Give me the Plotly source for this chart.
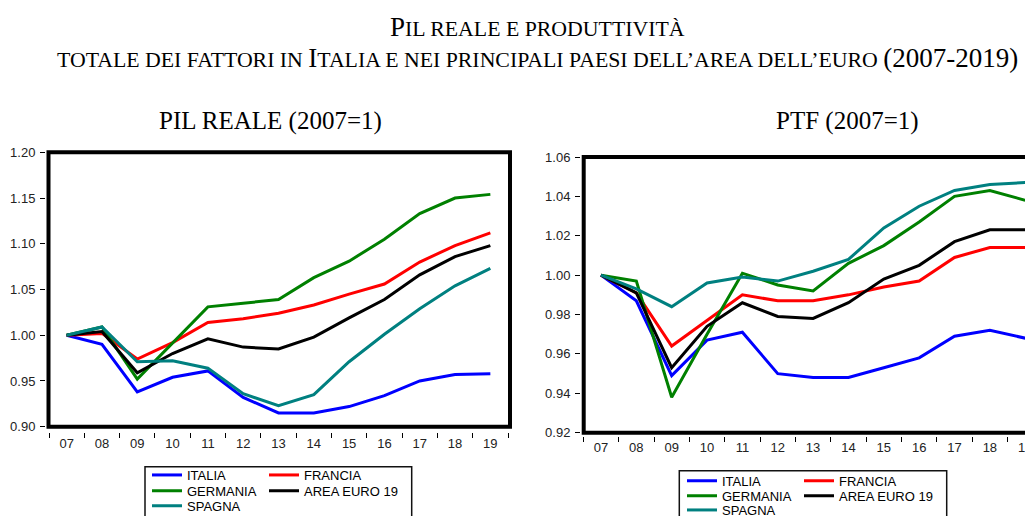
import plotly.graph_objects as go

# the page body keeps an 8px margin, so the figure is drawn 8px smaller
OFF = 8
W, H = 1033 - OFF, 516 - OFF

years = ["07", "08", "09", "10", "11", "12", "13", "14", "15", "16", "17", "18", "19"]

# PIL reale (2007=1)
pil_italia = [1.000, 0.990, 0.938, 0.954, 0.961, 0.932, 0.915, 0.915, 0.922, 0.934, 0.950, 0.957, 0.958]
pil_francia = [1.000, 1.002, 0.974, 0.992, 1.014, 1.018, 1.024, 1.033, 1.045, 1.056, 1.080, 1.098, 1.112]
pil_germania = [1.000, 1.009, 0.952, 0.992, 1.031, 1.035, 1.039, 1.063, 1.081, 1.105, 1.133, 1.150, 1.154]
pil_area_euro = [1.000, 1.004, 0.959, 0.980, 0.996, 0.987, 0.985, 0.998, 1.019, 1.039, 1.066, 1.086, 1.098]
pil_spagna = [1.000, 1.009, 0.971, 0.972, 0.964, 0.936, 0.923, 0.935, 0.971, 1.001, 1.029, 1.054, 1.073]

# PTF (2007=1)
ptf_italia = [1.000, 0.987, 0.949, 0.967, 0.971, 0.950, 0.948, 0.948, 0.953, 0.958, 0.969, 0.972, 0.968]
ptf_francia = [1.000, 0.991, 0.964, 0.977, 0.990, 0.987, 0.987, 0.990, 0.994, 0.997, 1.009, 1.014, 1.014]
ptf_germania = [1.000, 0.997, 0.938, 0.970, 1.001, 0.995, 0.992, 1.006, 1.015, 1.027, 1.040, 1.043, 1.038]
ptf_area_euro = [1.000, 0.991, 0.953, 0.974, 0.986, 0.979, 0.978, 0.986, 0.998, 1.005, 1.017, 1.023, 1.023]
ptf_spagna = [1.000, 0.993, 0.984, 0.996, 0.999, 0.997, 1.002, 1.008, 1.024, 1.035, 1.043, 1.046, 1.047]

series_names = ["ITALIA", "FRANCIA", "GERMANIA", "AREA EURO 19", "SPAGNA"]
series_colors = ["#0000FF", "#FF0000", "#008000", "#000000", "#008080"]
# legend row / column of each series (two columns, three rows)
series_rows = [0, 0, 1, 1, 2]
series_cols = [0, 1, 0, 1, 0]

SANS = "Liberation Sans, Arial, sans-serif"
SERIF = "Liberation Serif, Times New Roman, serif"


def fx(px):
    # window pixel -> paper fraction
    return (px - OFF) / W


def fy(px):
    return 1 - (px - OFF) / H


fig = go.Figure()

panels = [
    {"data": [pil_italia, pil_francia, pil_germania, pil_area_euro, pil_spagna],
     "xa": "x", "ya": "y", "legends": ["legend", "legend2", "legend3"]},
    {"data": [ptf_italia, ptf_francia, ptf_germania, ptf_area_euro, ptf_spagna],
     "xa": "x2", "ya": "y2", "legends": ["legend4", "legend5", "legend6"]},
]

for panel in panels:
    for name, color, row, col, values in zip(series_names, series_colors, series_rows,
                                             series_cols, panel["data"]):
        fig.add_trace(go.Scatter(x=years, y=values, mode="lines", name=name,
                                 line=dict(color=color, width=3),
                                 xaxis=panel["xa"], yaxis=panel["ya"],
                                 legend=panel["legends"][row],
                                 legendwidth=72 if col == 0 else 130,
                                 hoverinfo="skip"))

tick_font = dict(family=SANS, size=13, color="#222222")
xcommon = dict(type="category", categoryorder="array", categoryarray=years,
               anchor="free", ticks="outside", ticklen=5, tickwidth=1, tickcolor="#000000",
               tickson="boundaries", showline=False, showgrid=False, zeroline=False,
               ticklabelstandoff=2, tickfont=tick_font)
ycommon = dict(anchor="free", ticks="outside", ticklen=5, tickwidth=1, tickcolor="#000000",
               tickformat=".2f", showline=False, showgrid=False, zeroline=False,
               ticklabelstandoff=2, tickfont=tick_font)

fig.update_layout(
    width=W, height=H,
    margin=dict(l=0, r=0, t=0, b=0, autoexpand=False),
    paper_bgcolor="white", plot_bgcolor="white",
    xaxis=dict(xcommon, domain=[fx(49), fx(508)], range=[-0.5, 12.5], position=fy(431.5)),
    yaxis=dict(ycommon, domain=[fy(426.7), fy(152.3)], range=[0.90, 1.20], dtick=0.05,
               position=fx(45)),
    xaxis2=dict(xcommon, domain=[fx(583.3), 1.0], range=[-0.5, 12.22], position=fy(435.5)),
    yaxis2=dict(ycommon, domain=[fy(432.7), fy(157)], range=[0.92, 1.06], dtick=0.02,
                position=fx(580)),
    showlegend=True,
)

# legends: one horizontal legend per row, boxed by a rectangle
legend_style = dict(orientation="h", xanchor="left", yanchor="top", bgcolor="rgba(0,0,0,0)",
                    borderwidth=0, font=dict(family=SANS, size=13, color="#000000"),
                    entrywidthmode="pixels", itemwidth=30, tracegroupgap=0)
left_rows = [475, 490.7, 505.7]
right_rows = [480.7, 495.7, 510]
legend_layout = {}
for i, yc in enumerate(left_rows):
    key = "legend" if i == 0 else "legend%d" % (i + 1)
    legend_layout[key] = dict(legend_style, x=fx(147), y=fy(yc - 15))
for i, yc in enumerate(right_rows):
    legend_layout["legend%d" % (i + 4)] = dict(legend_style, x=fx(682), y=fy(yc - 15))
fig.update_layout(**legend_layout)

# thick chart frames and legend boxes
fig.add_shape(type="rect", xref="paper", yref="paper", x0=fx(48.5), x1=fx(510),
              y0=fy(426.7), y1=fy(152.3), line=dict(color="#000000", width=4))
fig.add_shape(type="rect", xref="paper", yref="paper", x0=fx(583.7), x1=fx(1048),
              y0=fy(432.7), y1=fy(157), line=dict(color="#000000", width=4))
fig.add_shape(type="rect", xref="paper", yref="paper", x0=fx(145), x1=fx(411.7),
              y0=fy(530), y1=fy(466.7), line=dict(color="#111111", width=1.5))
fig.add_shape(type="rect", xref="paper", yref="paper", x0=fx(679.3), x1=fx(946.7),
              y0=fy(530), y1=fy(470.7), line=dict(color="#111111", width=1.5))

# titles (small caps imitated with smaller capitals)
big, small = 27, 21.8
sc = "<span style='font-size:%.1fpx'>%s</span>"
title1 = "P" + sc % (small, "IL REALE E PRODUTTIVITÀ")
title2 = (sc % (small, "TOTALE DEI FATTORI IN ") + "I"
          + sc % (small, "TALIA E NEI PRINCIPALI PAESI DELL’AREA DELL’EURO ") + "(2007-2019)")
for text, xc, yc, size in [(title1, 537, 26.5, big), (title2, 537, 57.5, big),
                           ("PIL REALE (2007=1)", 270, 121, 25), ("PTF (2007=1)", 847, 121, 25)]:
    fig.add_annotation(text=text, xref="paper", yref="paper", x=fx(xc), y=fy(yc),
                       xanchor="center", yanchor="middle", showarrow=False,
                       font=dict(family=SERIF, size=size, color="#000000"))

fig.write_html("out.html")
